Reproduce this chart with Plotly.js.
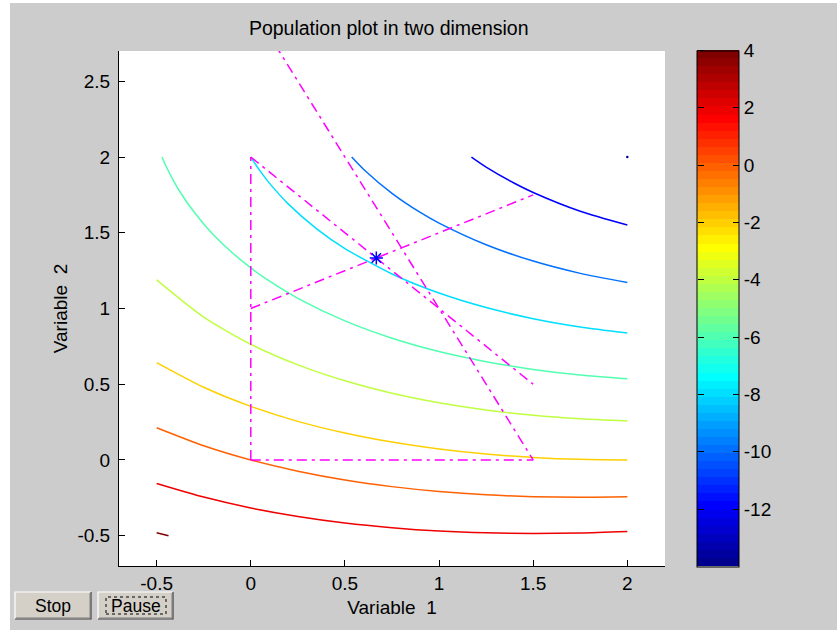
<!DOCTYPE html>
<html>
<head>
<meta charset="utf-8">
<script src="https://cdn.plot.ly/plotly-3.0.1.min.js"></script>
<style>html,body{margin:0;padding:0;background:#fff;}#chart{width:837px;height:630px;}</style>
</head>
<body>
<div id="chart"></div>
<script>
// ---- data ----
// contour levels of the objective (colour value of each line)
const levels = [4, 2, 0, -2, -4, -6, -8, -10, -12, -14];

const lvl4X = [-0.5, -0.437];
const lvl4Y = [-0.481, -0.5];

const gridX = [-0.5, -0.25, 0, 0.25, 0.5, 0.75, 1, 1.25, 1.5, 1.75, 2];
const lvl2Y  = [-0.155, -0.245, -0.317, -0.373, -0.416, -0.447, -0.469, -0.481, -0.485, -0.482, -0.472];
const lvl0Y  = [0.213, 0.094, 0.000, -0.074, -0.132, -0.176, -0.208, -0.230, -0.242, -0.246, -0.243];
const lvlm2Y = [0.643, 0.480, 0.354, 0.255, 0.178, 0.118, 0.072, 0.039, 0.017, 0.004, 0.000];
const lvlm4Y = [1.189, 0.943, 0.764, 0.628, 0.523, 0.441, 0.378, 0.330, 0.295, 0.272, 0.258];

const lvlm6X = [-0.472, -0.45, -0.4, -0.35, -0.3, -0.25, -0.2, -0.1, 0, 0.1, 0.25, 0.5, 0.75, 1, 1.25, 1.5, 1.75, 2];
const lvlm6Y = [2.0, 1.939, 1.820, 1.721, 1.635, 1.558, 1.489, 1.370, 1.268, 1.180, 1.067, 0.918, 0.804, 0.716, 0.649, 0.598, 0.561, 0.536];

const lvlm8X = [0, 0.02, 0.05, 0.1, 0.2, 0.35, 0.5, 0.75, 1, 1.25, 1.5, 1.75, 2];
const lvlm8Y = [2.0, 1.961, 1.907, 1.826, 1.689, 1.526, 1.396, 1.228, 1.102, 1.006, 0.933, 0.878, 0.838];

const lvlm10X = [0.536, 0.6, 0.75, 0.9, 1, 1.25, 1.5, 1.75, 2];
const lvlm10Y = [2.0, 1.918, 1.760, 1.634, 1.564, 1.421, 1.313, 1.232, 1.172];

const lvlm12X = [1.172, 1.25, 1.4, 1.5, 1.75, 2];
const lvlm12Y = [2.0, 1.934, 1.827, 1.766, 1.642, 1.551];

const lvlm14X = [2];
const lvlm14Y = [2];

// constraint boundaries (segments separated by null)
const boundX = [0, 0, null, 0, 1.5, null, 0, 1.5, null, 0, 1.5, null, 0, 1.5];
const boundY = [0, 2, null, 0, 0, null, 2, 0.5, null, 1, 1.75, null, 3, 0];

// optimum found
const bestX = [0.6667];
const bestY = [1.3333];

// tick labels
const xTickVals = [-0.5, 0, 0.5, 1, 1.5, 2];
const xTickText = ['-0.5', '0', '0.5', '1', '1.5', '2'];
const yTickVals = [-0.5, 0, 0.5, 1, 1.5, 2, 2.5];
const yTickText = ['-0.5', '0', '0.5', '1', '1.5', '2', '2.5'];
const cTickVals = [-12, -10, -8, -6, -4, -2, 0, 2, 4];
const cTickText = ['-12', '-10', '-8', '-6', '-4', '-2', '0', '2', '4'];

// ---- styling ----
const CMIN = -14, CMAX = 4;
function jetColor(i) { // MATLAB jet(64), i = 1..64
  const u = k => (k >= 1 && k <= 16) ? k / 16 : (k >= 17 && k <= 31) ? 1 : (k >= 32 && k <= 47) ? (48 - k) / 16 : 0;
  const r = u(i - 24), g = u(i - 8), b = u(i + 8);
  return 'rgb(' + Math.round(r * 255) + ',' + Math.round(g * 255) + ',' + Math.round(b * 255) + ')';
}
const jetScale = [];
for (let i = 1; i <= 64; i++) {
  jetScale.push([(i - 1) / 64, jetColor(i)]);
  jetScale.push([i / 64, jetColor(i)]);
}
function levelColor(c) {
  let idx = Math.floor((c - CMIN) / (CMAX - CMIN) * 64) + 1;
  idx = Math.max(1, Math.min(64, idx));
  return jetColor(idx);
}

const FONT = '"Liberation Sans", Arial, Helvetica, sans-serif';
const FS = 19;

// pixel -> paper helpers for decoration
const L = 119, T = 51, W = 546, H = 515;
const px = x => (x - L) / W;
const py = y => (T + H - y) / H;

function lineTrace(x, y, c) {
  return {x: x, y: y, type: 'scatter', mode: 'lines', hoverinfo: 'skip', showlegend: false,
          line: {color: levelColor(c), width: 1.5, shape: 'spline', smoothing: 0.7}};
}

const cbCommon = {
  xanchor: 'left', xpad: 0, ypad: 0,
  y: 0.5, yanchor: 'middle', len: 516, lenmode: 'pixels', thicknessmode: 'pixels',
  tickmode: 'array', tickvals: cTickVals, ticktext: cTickText,
  ticklen: 6, tickcolor: '#000', tickwidth: 1,
  tickfont: {family: FONT, size: FS, color: '#000'}
};

const traces = [
  lineTrace(lvl4X, lvl4Y, levels[0]),
  lineTrace(gridX, lvl2Y, levels[1]),
  lineTrace(gridX, lvl0Y, levels[2]),
  lineTrace(gridX, lvlm2Y, levels[3]),
  lineTrace(gridX, lvlm4Y, levels[4]),
  lineTrace(lvlm6X, lvlm6Y, levels[5]),
  lineTrace(lvlm8X, lvlm8Y, levels[6]),
  lineTrace(lvlm10X, lvlm10Y, levels[7]),
  lineTrace(lvlm12X, lvlm12Y, levels[8]),
  {x: lvlm14X, y: lvlm14Y, type: 'scatter', mode: 'markers', showlegend: false, hoverinfo: 'skip',
   marker: {size: 2.5, color: [levels[9]], cmin: CMIN, cmax: CMAX, colorscale: jetScale, showscale: true,
            colorbar: Object.assign({}, cbCommon, {
              x: px(697), thickness: 42, outlinewidth: 1, outlinecolor: '#000', ticks: 'inside'
            })}},
  // same point again, only to carry the left-hand tick marks of the colour bar
  {x: lvlm14X, y: lvlm14Y, type: 'scatter', mode: 'markers', showlegend: false, hoverinfo: 'skip',
   marker: {size: 0.1, opacity: 0, color: [levels[9]], cmin: CMIN, cmax: CMAX, colorscale: jetScale, showscale: true,
            colorbar: Object.assign({}, cbCommon, {
              x: px(697.5), thickness: 0, outlinewidth: 0, ticks: 'outside', showticklabels: false
            })}},
  {x: boundX, y: boundY, type: 'scatter', mode: 'lines', showlegend: false, hoverinfo: 'skip',
   connectgaps: false, line: {color: '#ff00ff', width: 1.5, dash: '10px,5px,3px,5px'}},
  {x: bestX, y: bestY, type: 'scatter', mode: 'markers', showlegend: false,
   marker: {symbol: 'asterisk-open', size: 11, color: '#0000ff', line: {color: '#0000ff', width: 1.5}}}
];

function button(x0, y0, x1, y1) {
  return [
    {type: 'rect', xref: 'paper', yref: 'paper', x0: px(x0), x1: px(x1), y0: py(y1), y1: py(y0),
     fillcolor: '#d4d0c8', line: {width: 0}},
    {type: 'path', xref: 'paper', yref: 'paper',
     path: 'M' + px(x0) + ',' + py(y1) + ' L' + px(x0) + ',' + py(y0) + ' L' + px(x1) + ',' + py(y0),
     line: {color: '#ffffff', width: 1.2}},
    {type: 'path', xref: 'paper', yref: 'paper',
     path: 'M' + px(x0) + ',' + py(y1) + ' L' + px(x1) + ',' + py(y1) + ' L' + px(x1) + ',' + py(y0),
     line: {color: '#404040', width: 1.2}},
    {type: 'path', xref: 'paper', yref: 'paper',
     path: 'M' + px(x0 + 1) + ',' + py(y1 - 1) + ' L' + px(x1 - 1) + ',' + py(y1 - 1) + ' L' + px(x1 - 1) + ',' + py(y0 + 1),
     line: {color: '#808080', width: 1}}
  ];
}

const shapes = [
  // white outer strips
  {type: 'rect', xref: 'paper', yref: 'paper', x0: px(0), x1: px(10), y0: py(630), y1: py(0),
   fillcolor: '#ffffff', line: {width: 0}, layer: 'below'},
  {type: 'rect', xref: 'paper', yref: 'paper', x0: px(0), x1: px(837), y0: py(3), y1: py(0),
   fillcolor: '#ffffff', line: {width: 0}, layer: 'below'}
].concat(button(15, 592, 91, 619), button(98, 592, 173, 619), [
  {type: 'rect', xref: 'paper', yref: 'paper', x0: px(106), x1: px(166), y0: py(614), y1: py(597),
   line: {color: '#000', width: 1, dash: 'dot'}}
]);

const layout = {
  width: 837, height: 630,
  margin: {l: L, r: 837 - L - W, t: T, b: 630 - T - H, pad: 0},
  paper_bgcolor: '#cccccc', plot_bgcolor: '#ffffff',
  font: {family: FONT, size: FS, color: '#000'},
  showlegend: false,
  title: {text: 'Population plot in two dimension', font: {family: FONT, size: 19.5, color: '#000'},
          xref: 'paper', x: 0.494, xanchor: 'center', yref: 'container', y: 1 - 28 / 630, yanchor: 'middle'},
  xaxis: {range: [-0.7, 2.2], tickmode: 'array', tickvals: xTickVals, ticktext: xTickText,
          ticks: 'inside', ticklen: 6, tickcolor: '#000', tickwidth: 1,
          showline: true, linecolor: '#000', linewidth: 1, mirror: false,
          showgrid: false, zeroline: false, ticklabelstandoff: 0,
          tickfont: {family: FONT, size: FS, color: '#000'},
          title: {text: 'Variable\u00a0\u00a01', font: {family: FONT, size: FS, color: '#000'}, standoff: 7}},
  yaxis: {range: [-0.7, 2.7], tickmode: 'array', tickvals: yTickVals, ticktext: yTickText,
          ticks: 'inside', ticklen: 6, tickcolor: '#000', tickwidth: 1,
          showline: true, linecolor: '#000', linewidth: 1, mirror: false,
          showgrid: false, zeroline: false, ticklabelstandoff: 4,
          tickfont: {family: FONT, size: FS, color: '#000'},
          title: {text: 'Variable\u00a0\u00a02', font: {family: FONT, size: FS, color: '#000'}, standoff: 4}},
  shapes: shapes,
  annotations: [
    {xref: 'paper', yref: 'paper', x: px(53), y: py(605.5), text: 'Stop', showarrow: false,
     xanchor: 'center', yanchor: 'middle', font: {family: FONT, size: 17.5, color: '#000'}},
    {xref: 'paper', yref: 'paper', x: px(135.5), y: py(605.5), text: 'Pause', showarrow: false,
     xanchor: 'center', yanchor: 'middle', font: {family: FONT, size: 17.5, color: '#000'}}
  ]
};

Plotly.newPlot('chart', traces, layout, {staticPlot: true, displayModeBar: false});
</script>
</body>
</html>
